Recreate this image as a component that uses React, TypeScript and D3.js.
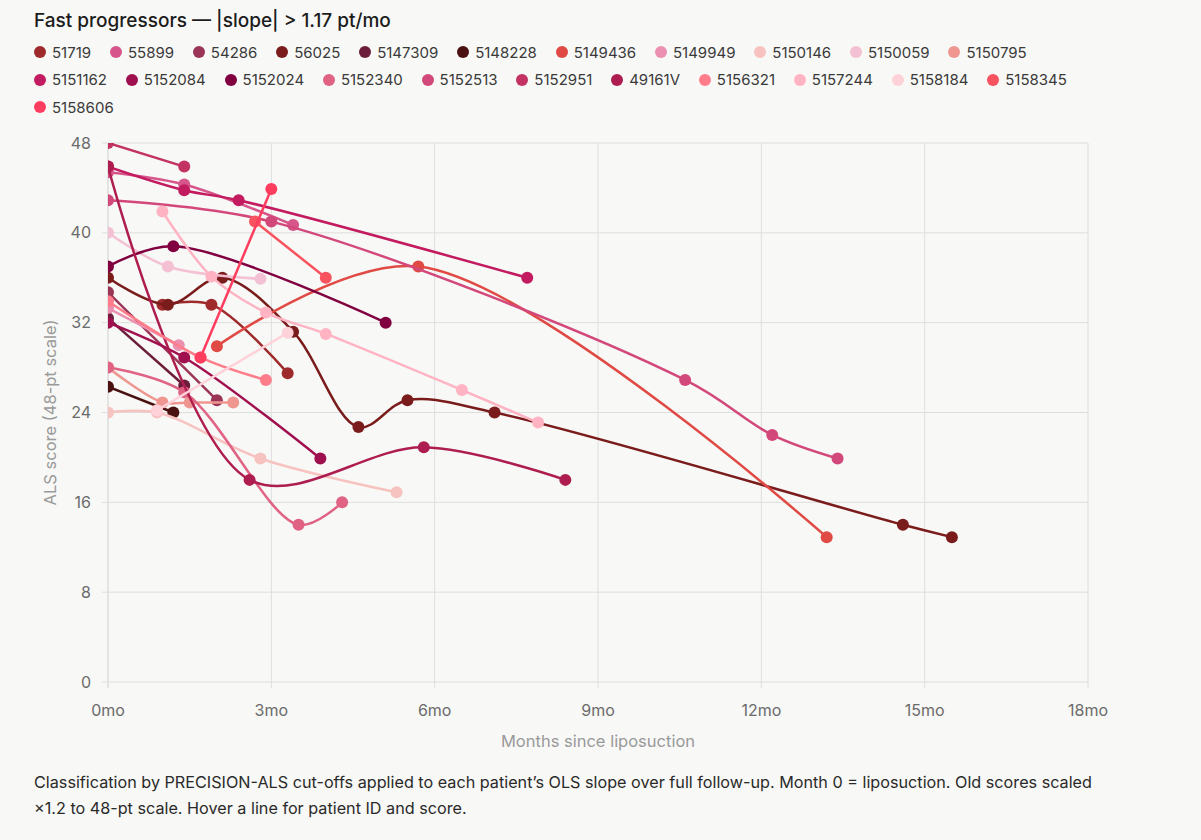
import { useRef, useEffect } from "react";
import * as d3 from "d3";

const PATIENT_IDS = [
  "51719", "55899", "54286", "56025", "5147309", "5148228", "5149436", "5149949",
  "5150146", "5150059", "5150795", "5151162", "5152084", "5152024", "5152340", "5152513",
  "5152951", "49161V", "5156321", "5157244", "5158184", "5158345", "5158606",
];

const COLORS = [
  "#9e2a2b", "#d6558a", "#9b3557", "#7a1c1c", "#6b1d3a", "#4a1111", "#e04a45", "#ec90b2",
  "#f7c3c0", "#f3c1d3", "#ef9691", "#c21b5f", "#a0104f", "#800040", "#e06384", "#d3487b",
  "#c23262", "#ae1d4f", "#ff7d8b", "#ffb3c3", "#ffd2da", "#f9535f", "#ff3d5f",
];

// months since liposuction, one array per patient (same order as PATIENT_IDS)
const MONTHS = [
  [1.0, 1.9, 3.3],
  [0, 1.4, 3.4],
  [0, 2.0],
  [0, 1.1, 2.1, 3.4, 4.6, 5.5, 7.1, 14.6, 15.5],
  [0, 1.4],
  [0, 1.2],
  [2.0, 5.7, 13.2],
  [0, 1.3],
  [0, 0.9, 2.8, 5.3],
  [0, 1.1, 2.8],
  [0, 1.0, 1.5, 2.3],
  [0, 1.4, 2.4, 7.7],
  [0, 1.4, 3.9],
  [0, 1.2, 5.1],
  [0, 1.4, 3.5, 4.3],
  [0, 3.0, 10.6, 12.2, 13.4],
  [0, 1.4],
  [0, 2.6, 5.8, 8.4],
  [0, 1.7, 2.9],
  [1.0, 1.9, 2.9, 4.0, 6.5, 7.9],
  [0.9, 3.3],
  [2.7, 4.0],
  [1.7, 3.0],
];

// ALS score (48-pt scale)
const SCORES = [
  [33.6, 33.6, 27.5],
  [45.4, 44.3, 40.7],
  [34.7, 25.1],
  [36, 33.6, 36, 31.2, 22.7, 25.1, 24, 14, 12.9],
  [32.4, 26.4],
  [26.3, 24],
  [29.9, 37, 12.9],
  [33.3, 30],
  [24, 24, 19.9, 16.9],
  [40, 37, 35.9],
  [28, 24.9, 24.9, 24.9],
  [45.9, 43.8, 42.9, 36],
  [32, 28.9, 19.9],
  [37, 38.8, 32],
  [28, 25.8, 14, 16],
  [42.9, 41, 26.9, 22, 19.9],
  [48, 45.9],
  [45.9, 18, 20.9, 18],
  [33.9, 28.9, 26.9],
  [41.9, 36.1, 32.9, 31, 26, 23.1],
  [24.2, 31.1],
  [41, 36],
  [28.9, 43.9],
];

const X_TICKS = [0, 3, 6, 9, 12, 15, 18];
const Y_TICKS = [0, 8, 16, 24, 32, 40, 48];

const FONT = "Inter, 'Noto Sans', sans-serif";
const WIDTH = 1201;
const HEIGHT = 840;
const PLOT = { left: 108, right: 1088, top: 143, bottom: 682 };

export default function App() {
  const svgRef = useRef<SVGSVGElement>(null);

  useEffect(() => {
    const svg = d3.select(svgRef.current);
    svg.selectAll("*").remove();

    const x = d3.scaleLinear().domain([0, 18]).range([PLOT.left, PLOT.right]);
    const y = d3.scaleLinear().domain([0, 48]).range([PLOT.bottom, PLOT.top]);

    svg
      .append("defs")
      .append("clipPath")
      .attr("id", "plot-clip")
      .append("rect")
      .attr("x", PLOT.left)
      .attr("y", PLOT.top)
      .attr("width", PLOT.right - PLOT.left)
      .attr("height", PLOT.bottom - PLOT.top);

    // Grid
    const grid = svg.append("g");
    grid
      .selectAll("line.v")
      .data(X_TICKS)
      .join("line")
      .attr("x1", (d) => x(d))
      .attr("x2", (d) => x(d))
      .attr("y1", PLOT.top)
      .attr("y2", PLOT.bottom + 6)
      .attr("stroke", (d) => (d === 0 ? "#cfcfcf" : "#dedede"));
    grid
      .selectAll("line.h")
      .data(Y_TICKS)
      .join("line")
      .attr("x1", PLOT.left - 6)
      .attr("x2", PLOT.right)
      .attr("y1", (d) => y(d))
      .attr("y2", (d) => y(d))
      .attr("stroke", "#dedede");

    // Axes labels
    svg
      .append("g")
      .selectAll("text")
      .data(Y_TICKS)
      .join("text")
      .attr("x", PLOT.left - 17)
      .attr("y", (d) => y(d))
      .attr("dy", "0.35em")
      .attr("text-anchor", "end")
      .attr("fill", "#6b6b6b")
      .attr("font-size", 16)
      .text((d) => d);

    svg
      .append("g")
      .selectAll("text")
      .data(X_TICKS)
      .join("text")
      .attr("x", (d) => x(d))
      .attr("y", PLOT.bottom + 28)
      .attr("dy", "0.35em")
      .attr("text-anchor", "middle")
      .attr("fill", "#6b6b6b")
      .attr("font-size", 16)
      .text((d) => `${d}mo`);

    svg
      .append("text")
      .attr("x", (PLOT.left + PLOT.right) / 2)
      .attr("y", PLOT.bottom + 59)
      .attr("dy", "0.35em")
      .attr("text-anchor", "middle")
      .attr("fill", "#9a9a9a")
      .attr("font-size", 16.5)
      .text("Months since liposuction");

    svg
      .append("text")
      .attr("transform", `translate(50,${(PLOT.top + PLOT.bottom) / 2}) rotate(-90)`)
      .attr("dy", "0.35em")
      .attr("text-anchor", "middle")
      .attr("fill", "#9a9a9a")
      .attr("font-size", 16.5)
      .text("ALS score (48-pt scale)");

    // Patient lines
    const line = d3
      .line<[number, number]>()
      .x((d) => x(d[0]))
      .y((d) => y(d[1]))
      .curve(d3.curveCatmullRom);

    const plot = svg.append("g").attr("clip-path", "url(#plot-clip)");
    PATIENT_IDS.forEach((id, i) => {
      const pts: [number, number][] = MONTHS[i].map((m, j) => [m, SCORES[i][j]]);
      const g = plot.append("g").attr("data-id", id);
      g.append("path")
        .datum(pts)
        .attr("fill", "none")
        .attr("stroke", COLORS[i])
        .attr("stroke-width", 2.5)
        .attr("d", line);
      g.selectAll("circle")
        .data(pts)
        .join("circle")
        .attr("cx", (d) => x(d[0]))
        .attr("cy", (d) => y(d[1]))
        .attr("r", 6)
        .attr("fill", COLORS[i]);
    });
  }, []);

  return (
    <div
      style={{
        position: "relative",
        width: WIDTH,
        height: HEIGHT,
        background: "#f8f8f6",
        fontFamily: FONT,
        color: "#2a2a2a",
        overflow: "hidden",
      }}
    >
      <style>{`body{margin:0;background:#f8f8f6}`}</style>
      <div style={{ position: "absolute", left: 34, top: 9, fontSize: 19, fontWeight: 500, color: "#1c1c1c" }}>
        Fast progressors — |slope| &gt; 1.17 pt/mo
      </div>
      <div
        style={{
          position: "absolute",
          left: 34,
          top: 41,
          width: 1050,
          display: "flex",
          flexWrap: "wrap",
          columnGap: 18.8,
          rowGap: 5.5,
          fontSize: 15,
          color: "#3a3a3a",
        }}
      >
        {PATIENT_IDS.map((id, i) => (
          <span key={id} style={{ display: "flex", alignItems: "center", gap: 6, height: 22 }}>
            <span style={{ width: 12, height: 12, borderRadius: 6, background: COLORS[i], display: "inline-block" }} />
            {id}
          </span>
        ))}
      </div>
      <svg ref={svgRef} width={WIDTH} height={HEIGHT} style={{ position: "absolute", left: 0, top: 0, fontFamily: FONT }} />
      <div style={{ position: "absolute", left: 34, top: 769, fontSize: 16.2, lineHeight: "26px", color: "#2a2a2a" }}>
        Classification by PRECISION-ALS cut-offs applied to each patient’s OLS slope over full follow-up. Month 0 = liposuction. Old scores scaled
        <br />
        ×1.2 to 48-pt scale. Hover a line for patient ID and score.
      </div>
    </div>
  );
}
